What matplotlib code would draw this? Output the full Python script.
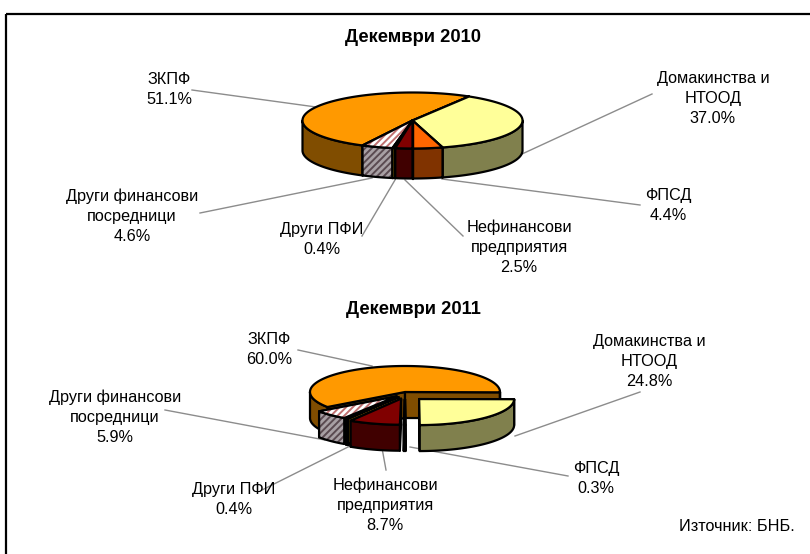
import numpy as np
import matplotlib
matplotlib.use("Agg")
import matplotlib.pyplot as plt
from matplotlib.patches import Polygon, Rectangle

plt.rcParams["font.family"] = ["Liberation Sans", "DejaVu Sans"]
plt.rcParams["hatch.linewidth"] = 1.4

names = ["Домакинства и\nНТООД", "ФПСД", "Нефинансови\nпредприятия", "Други ПФИ",
         "Други финансови\nпосредници", "ЗКПФ"]
values_2010 = [37.0, 4.4, 2.5, 0.4, 4.6, 51.1]
values_2011 = [24.8, 0.3, 8.7, 0.4, 5.9, 60.0]

top_colors = ["#FFFF99", "#FF6600", "#800000", "#404040", "#FFFFFF", "#FF9900"]
side_colors = ["#80804D", "#803300", "#400000", "#A67C00", "#A8A0A4", "#804D00"]
top_hatch = [None, None, None, None, "/////", None]
side_hatch = [None, None, None, None, "/////", None]
hatch_top_color = "#C07070"
hatch_side_color = "#5A4A50"
LINE = 1.6
GREY = "#8C8C8C"


def arc(cx, cy, rx, ry, a0, a1):
    t = np.radians(np.linspace(a0, a1, max(int(abs(a1 - a0)) * 2, 2)))
    return np.column_stack([cx + rx * np.sin(t), cy - ry * np.cos(t)])


def face(ax, pts, color, hatch=None, hatch_color=None):
    if hatch:
        ax.add_patch(Polygon(pts, closed=True, facecolor=color, edgecolor=hatch_color, hatch=hatch, lw=0))
        ax.add_patch(Polygon(pts, closed=True, fill=False, edgecolor="black", lw=LINE, joinstyle="round"))
    else:
        ax.add_patch(Polygon(pts, closed=True, facecolor=color, edgecolor="black", lw=LINE, joinstyle="round"))


def draw_slice(ax, cx, cy, rx, ry, depth, a0, a1, i):
    sh = side_hatch[i]
    # radial cut walls
    for a in (a0, a1):
        p = arc(cx, cy, rx, ry, a, a)[0]
        wall = [(cx, cy), p, (p[0], p[1] + depth), (cx, cy + depth)]
        face(ax, wall, side_colors[i], sh, hatch_side_color)
    # outer wall, only the part turned to the viewer
    for lo, hi in ((90, 270), (450, 630)):
        s, e = max(a0, lo), min(a1, hi)
        if e > s:
            upper = arc(cx, cy, rx, ry, s, e)
            lower = upper[::-1] + [0, depth]
            face(ax, np.vstack([upper, lower]), side_colors[i], sh, hatch_side_color)
    top = np.vstack([[(cx, cy)], arc(cx, cy, rx, ry, a0, a1)])
    face(ax, top, top_colors[i], top_hatch[i], hatch_top_color)


def draw_pie(ax, values, cx, cy, rx, ry, depth, start, explode):
    edges = start + np.concatenate([[0], np.cumsum(values)]) * 3.6
    mids = (edges[:-1] + edges[1:]) / 2
    order = sorted(range(len(values)), key=lambda i: (-np.cos(np.radians(mids[i])), explode[i]))
    for i in order:
        m = np.radians(mids[i])
        dx = explode[i] * np.sin(m)
        dy = -explode[i] * np.cos(m) * 0.5
        draw_slice(ax, cx + dx, cy + dy, rx, ry, depth, edges[i], edges[i + 1], i)


def label(ax, values, i, x, y, line):
    text = "{}\n{:.1f}%".format(names[i], values[i])
    ax.text(x, y + 1.5, text, ha="center", va="center", fontsize=11.7, color="black", linespacing=1.42)
    ax.plot(*zip(*line), color=GREY, lw=1.0, zorder=0.5)


fig = plt.figure(figsize=(8.1, 5.54), dpi=100)
ax = fig.add_axes([0, 0, 1, 1])
ax.set_xlim(0, 810)
ax.set_ylim(554, 0)
ax.axis("off")

ax.add_patch(Rectangle((6, 14), 900, 700, fill=False, edgecolor="black", lw=1.6))

ax.text(413, 38, "Декември 2010", ha="center", va="center", fontsize=13.2, fontweight="bold")
ax.text(413, 310, "Декември 2011", ha="center", va="center", fontsize=13.2, fontweight="bold")

draw_pie(ax, values_2010, 412.5, 120.5, 110, 28, 30, 30.96, [0, 0, 0, 0, 0, 0])
draw_pie(ax, values_2011, 405, 392, 95, 26, 26, 90.36, [20, 14, 14, 12, 12, 0])

label(ax, values_2010, 0, 713, 97, [(522, 154), (652, 94)])
label(ax, values_2010, 1, 668, 204, [(442, 179), (640, 205)])
label(ax, values_2010, 2, 519, 246, [(405, 180), (463, 236)])
label(ax, values_2010, 3, 322, 238, [(395, 180), (362, 236)])
label(ax, values_2010, 4, 132, 215, [(372, 178), (200, 213)])
label(ax, values_2010, 5, 169, 88, [(192, 90), (316, 107)])

label(ax, values_2011, 0, 649, 360, [(515, 436), (640, 392)])
label(ax, values_2011, 1, 596, 477, [(410, 447), (568, 476)])
label(ax, values_2011, 2, 385, 504, [(382, 448), (386, 470)])
label(ax, values_2011, 3, 234, 498, [(352, 445), (262, 490)])
label(ax, values_2011, 4, 115, 416, [(325, 440), (165, 410)])
label(ax, values_2011, 5, 269, 348, [(298, 350), (372, 366)])

ax.text(737, 526.5, "Източник: БНБ.", ha="center", va="center", fontsize=11.7)

fig.savefig("out.png", dpi=100)
